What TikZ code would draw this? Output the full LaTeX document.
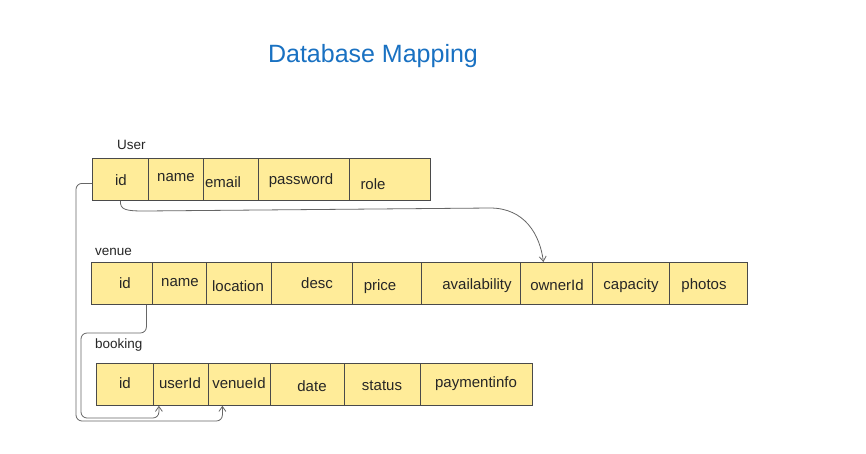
\documentclass[tikz,border=0pt]{standalone}
\usepackage{fontspec}
\setmainfont{Liberation Sans}
\usetikzlibrary{arrows.meta}
\definecolor{cellfill}{HTML}{FFEC99}
\definecolor{cellline}{HTML}{4A4A4A}
\definecolor{connline}{HTML}{666666}
\definecolor{titleblue}{HTML}{1971C2}
\tikzset{
  cell/.style={draw=cellline, line width=0.8pt, fill=cellfill, minimum height=42pt, inner sep=0pt, anchor=north west},
  celltext/.style={font=\fontsize{15}{17}\selectfont, text=black!85, inner sep=0pt},
  tabname/.style={font=\fontsize{13.5}{15}\selectfont, text=black!85, anchor=west, inner sep=0pt},
  conn/.style={draw=connline, line width=0.8pt},
  tip/.style={-{Straight Barb[length=5pt,width=7pt]}}
}
\begin{document}
\begin{tikzpicture}[x=1pt,y=-1pt]
\useasboundingbox (0,0) rectangle (866,453);
\fill[white] (0,0) rectangle (866,453);

\node[font=\fontsize{25}{28}\selectfont, text=titleblue] (title) at (373,56) {Database Mapping};

% User table
\node[tabname] (userlbl) at (117,145) {User};
\foreach \i/\x/\w/\tx/\ty/\t in {1/92/56/121/180/id, 2/148/55/176/178/name, 3/203/55/223/182/email, 4/258/91/301/181/password, 5/349/81/373/184/role}{
  \node[cell, minimum width=\w pt] (u\i) at (\x,158) {};
  \node[celltext] (ut\i) at (\tx,\ty) {\t};
}

% venue table
\node[tabname] (venuelbl) at (95,252) {venue};
\foreach \i/\x/\w/\tx/\ty/\t in {1/91/61/125/283/id, 2/152/54/180/283/name, 3/206/65/238/286/location, 4/271/81/317/283/desc, 5/352/69/380/287/price, 6/421/99/477/286/availability, 7/520/72/557/285/ownerId, 8/592/77/631/286/capacity, 9/669/78/704/286/photos}{
  \node[cell, minimum width=\w pt] (v\i) at (\x,262) {};
  \node[celltext] (vt\i) at (\tx,\ty) {\t};
}

% booking table
\node[tabname] (bookinglbl) at (95,345) {booking};
\foreach \i/\x/\w/\tx/\ty/\t in {1/96/57/125/383/id, 2/153/55/180/383/userId, 3/208/62/239/383/venueId, 4/270/74/312/386/date, 5/344/76/382/386/status, 6/420/112/476/384/paymentinfo}{
  \node[cell, minimum width=\w pt] (b\i) at (\x,363) {};
  \node[celltext] (bt\i) at (\tx,\ty) {\t};
}

% connectors
\draw[conn, tip] (u1.south) .. controls (120,210) and (126,211) .. (145,211) -- (490,208) .. controls (525,208) and (540,235) .. ([xshift=-13pt]v7.north);
\draw[conn, tip, rounded corners=6pt] ([yshift=-4pt]u1.west) -| (76,421) -| ([xshift=-17pt]b3.south);
\draw[conn, tip, rounded corners=6pt] ([xshift=24.5pt]v1.south) |- (81,333) -- (81,418) -| ([xshift=-22pt]b2.south);
\end{tikzpicture}
\end{document}
